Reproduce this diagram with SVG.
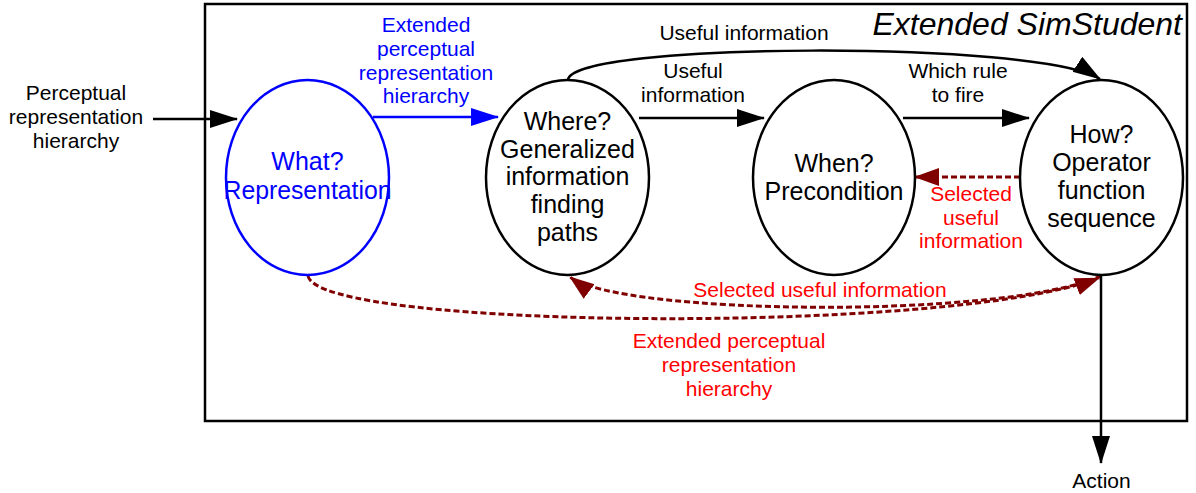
<svg xmlns="http://www.w3.org/2000/svg" width="1196" height="493" viewBox="0 0 1196 493">
<style>
  text { font-family: "Liberation Sans", Arial, sans-serif; }
  .node { fill: #ffffff; stroke: #000000; stroke-width: 2.5; }
  .nodeblue { fill: #ffffff; stroke: #0000ff; stroke-width: 2.5; }
  .ntxt { font-size: 25px; fill: #000000; text-anchor: middle; }
  .ntxtb { font-size: 25px; fill: #0000ff; text-anchor: middle; }
  .lbl { font-size: 21px; fill: #000000; text-anchor: middle; }
  .lblb { font-size: 21px; fill: #0000ff; text-anchor: middle; }
  .lblr { font-size: 21px; fill: #ff0000; text-anchor: middle; }
  .edge { fill: none; stroke: #000000; stroke-width: 2.5; }
  .edgeb { fill: none; stroke: #0000ff; stroke-width: 2.5; }
  .edger { fill: none; stroke: #800000; stroke-width: 3; stroke-dasharray: 6 3; }
</style>
<defs>
  <marker id="ah" markerUnits="userSpaceOnUse" markerWidth="30" markerHeight="20" refX="27" refY="9" orient="auto">
    <path d="M0,0 L28,9 L0,18 z" fill="#000000"/>
  </marker>
  <marker id="ahb" markerUnits="userSpaceOnUse" markerWidth="30" markerHeight="20" refX="27" refY="9" orient="auto">
    <path d="M0,0 L28,9 L0,18 z" fill="#0000ff"/>
  </marker>
  <marker id="ahr" markerUnits="userSpaceOnUse" markerWidth="30" markerHeight="20" refX="24" refY="9" orient="auto">
    <path d="M0,0 L25,9 L0,18 z" fill="#800000"/>
  </marker>
</defs>
<rect width="1196" height="493" fill="#ffffff"/>

<g id="frame">
  <rect x="205" y="4" width="982" height="417" fill="none" stroke="#000000" stroke-width="2.5"/>
  <text x="1182" y="35" font-size="32" font-style="italic" text-anchor="end" fill="#000000">Extended SimStudent</text>
</g>

<g id="connectors">
  <path class="edge" d="M153,119 L237,119" marker-end="url(#ah)"/>
  <path class="edgeb" d="M373,117 L498,117" marker-end="url(#ahb)"/>
  <path class="edge" d="M639,118 L764,118" marker-end="url(#ah)"/>
  <path class="edge" d="M903,118 L1029,118" marker-end="url(#ah)"/>
  <path class="edge" d="M568,80 C570,42 1040,40 1100,79" marker-end="url(#ah)"/>
  <path class="edger" d="M1020,177 L915,177" marker-end="url(#ahr)"/>
  <path class="edger" d="M1101,276 C1000,320 620,315 570,277" marker-end="url(#ahr)"/>
  <path class="edger" d="M308,276 C320,330 950,335 1099,278" marker-end="url(#ahr)"/>
  <path class="edge" d="M1101,275 L1101,463" marker-end="url(#ah)"/>
</g>

<g id="node-what">
  <ellipse class="nodeblue" cx="307.5" cy="177.5" rx="81.5" ry="97.5" fill="none" style="fill:none"/>
  <text class="ntxtb" x="307.5" y="170">What?</text>
  <text class="ntxtb" x="307.5" y="199" textLength="168" lengthAdjust="spacingAndGlyphs">Representation</text>
</g>

<g id="node-where">
  <ellipse class="node" cx="567.5" cy="177.5" rx="81.5" ry="97.5"/>
  <text class="ntxt" x="567.5" y="130">Where?</text>
  <text class="ntxt" x="567.5" y="158">Generalized</text>
  <text class="ntxt" x="567.5" y="185">information</text>
  <text class="ntxt" x="567.5" y="213">finding</text>
  <text class="ntxt" x="567.5" y="241">paths</text>
</g>

<g id="node-when">
  <ellipse class="node" cx="834" cy="177.5" rx="81" ry="97.5"/>
  <text class="ntxt" x="834" y="172">When?</text>
  <text class="ntxt" x="834" y="200">Precondition</text>
</g>

<g id="node-how">
  <ellipse class="node" cx="1101.5" cy="177.5" rx="81.5" ry="97.5"/>
  <text class="ntxt" x="1101.5" y="143">How?</text>
  <text class="ntxt" x="1101.5" y="171">Operator</text>
  <text class="ntxt" x="1101.5" y="199">function</text>
  <text class="ntxt" x="1101.5" y="227">sequence</text>
</g>

<g id="labels">
  <text class="lbl" x="76" y="100">Perceptual</text>
  <text class="lbl" x="76" y="124">representation</text>
  <text class="lbl" x="76" y="148">hierarchy</text>

  <text class="lblb" x="426" y="32">Extended</text>
  <text class="lblb" x="426" y="56">perceptual</text>
  <text class="lblb" x="426" y="80">representation</text>
  <text class="lblb" x="426" y="103">hierarchy</text>

  <text class="lbl" x="744" y="40">Useful information</text>
  <text class="lbl" x="693" y="78">Useful</text>
  <text class="lbl" x="693" y="102">information</text>
  <text class="lbl" x="958" y="78">Which rule</text>
  <text class="lbl" x="958" y="102">to fire</text>

  <text class="lblr" x="971" y="201">Selected</text>
  <text class="lblr" x="971" y="225">useful</text>
  <text class="lblr" x="971" y="248">information</text>

  <text class="lblr" x="820" y="297">Selected useful information</text>

  <text class="lblr" x="729" y="348">Extended perceptual</text>
  <text class="lblr" x="729" y="372">representation</text>
  <text class="lblr" x="729" y="396">hierarchy</text>

  <text class="lbl" x="1101.5" y="488">Action</text>
</g>
</svg>
